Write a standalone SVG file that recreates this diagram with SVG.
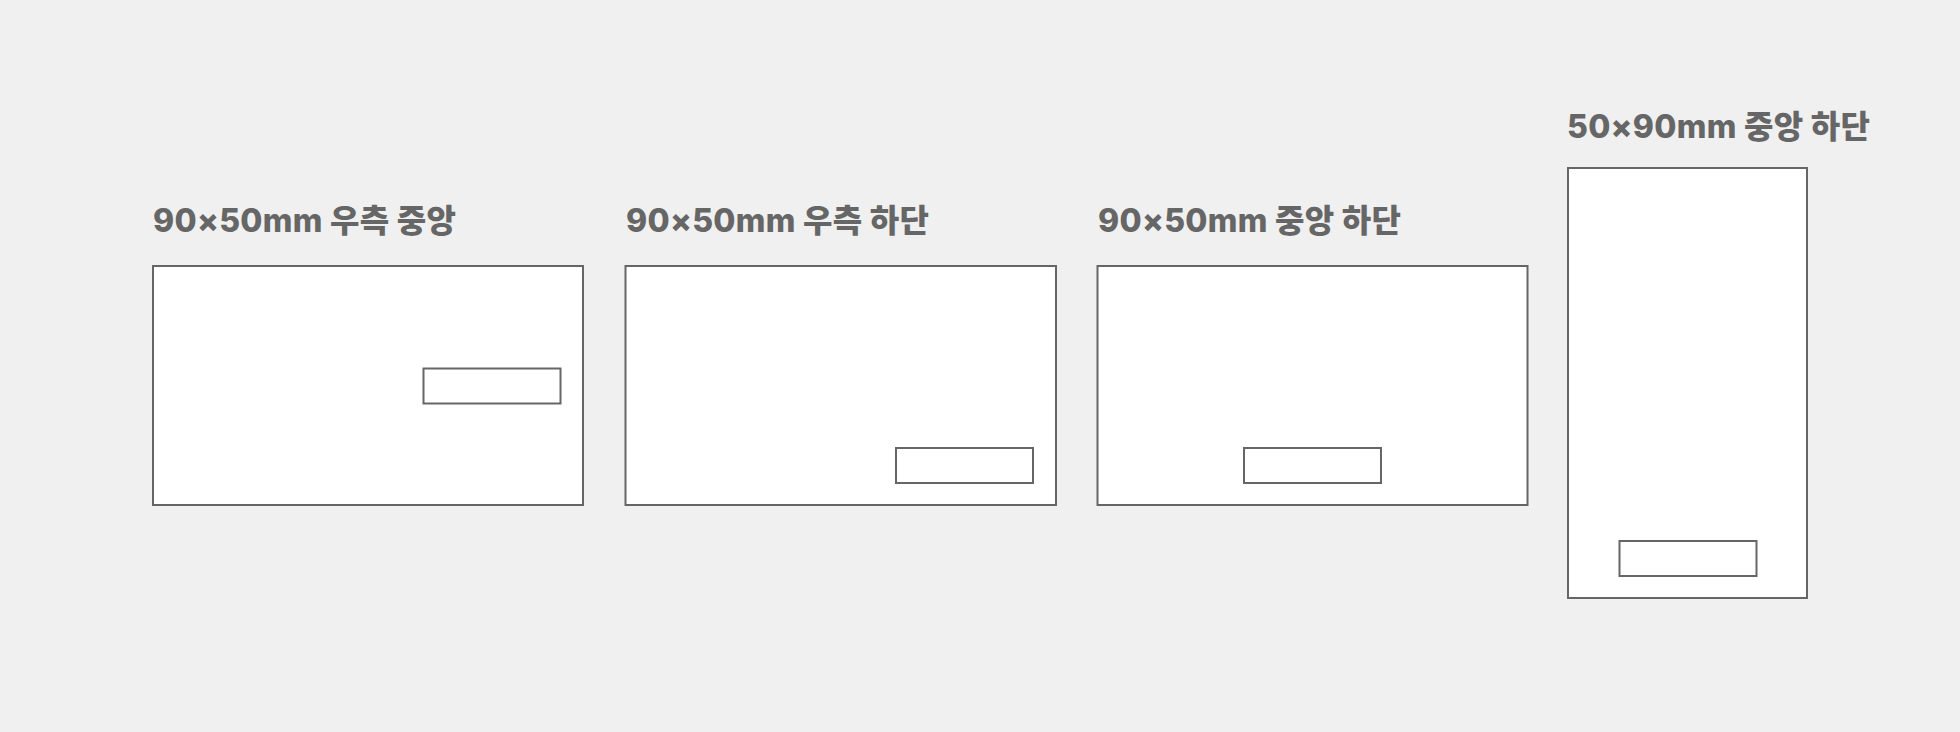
<svg xmlns="http://www.w3.org/2000/svg" width="1960" height="732" viewBox="0 0 1960 732">
<style>
.bg{fill:#f0f0f0}
.card{fill:#ffffff;stroke:#666666;stroke-width:2}
.slot{fill:#ffffff;stroke:#666666;stroke-width:2}
.label{font-family:Inter,"Noto Sans CJK KR",sans-serif;font-weight:800;font-size:32px;letter-spacing:0.3px;fill:#666666}
</style>
<rect class="bg" x="0" y="0" width="1960" height="732"/>
<g id="card1">
<text class="label" x="153" y="232">90×50mm 우측 중앙</text>
<rect class="card" x="153" y="266" width="430" height="239"/>
<rect class="slot" x="423.5" y="368.5" width="137" height="35"/>
</g>
<g id="card2">
<text class="label" x="626" y="232">90×50mm 우측 하단</text>
<rect class="card" x="625.5" y="266" width="430.5" height="239"/>
<rect class="slot" x="896" y="448" width="137" height="35"/>
</g>
<g id="card3">
<text class="label" x="1098" y="232">90×50mm 중앙 하단</text>
<rect class="card" x="1097.5" y="266" width="430" height="239"/>
<rect class="slot" x="1244" y="448" width="137" height="35"/>
</g>
<g id="card4">
<text class="label" x="1567" y="138">50×90mm 중앙 하단</text>
<rect class="card" x="1568" y="168" width="239" height="430"/>
<rect class="slot" x="1619.5" y="541" width="137" height="35"/>
</g>
<g id="connectors"></g>
</svg>
